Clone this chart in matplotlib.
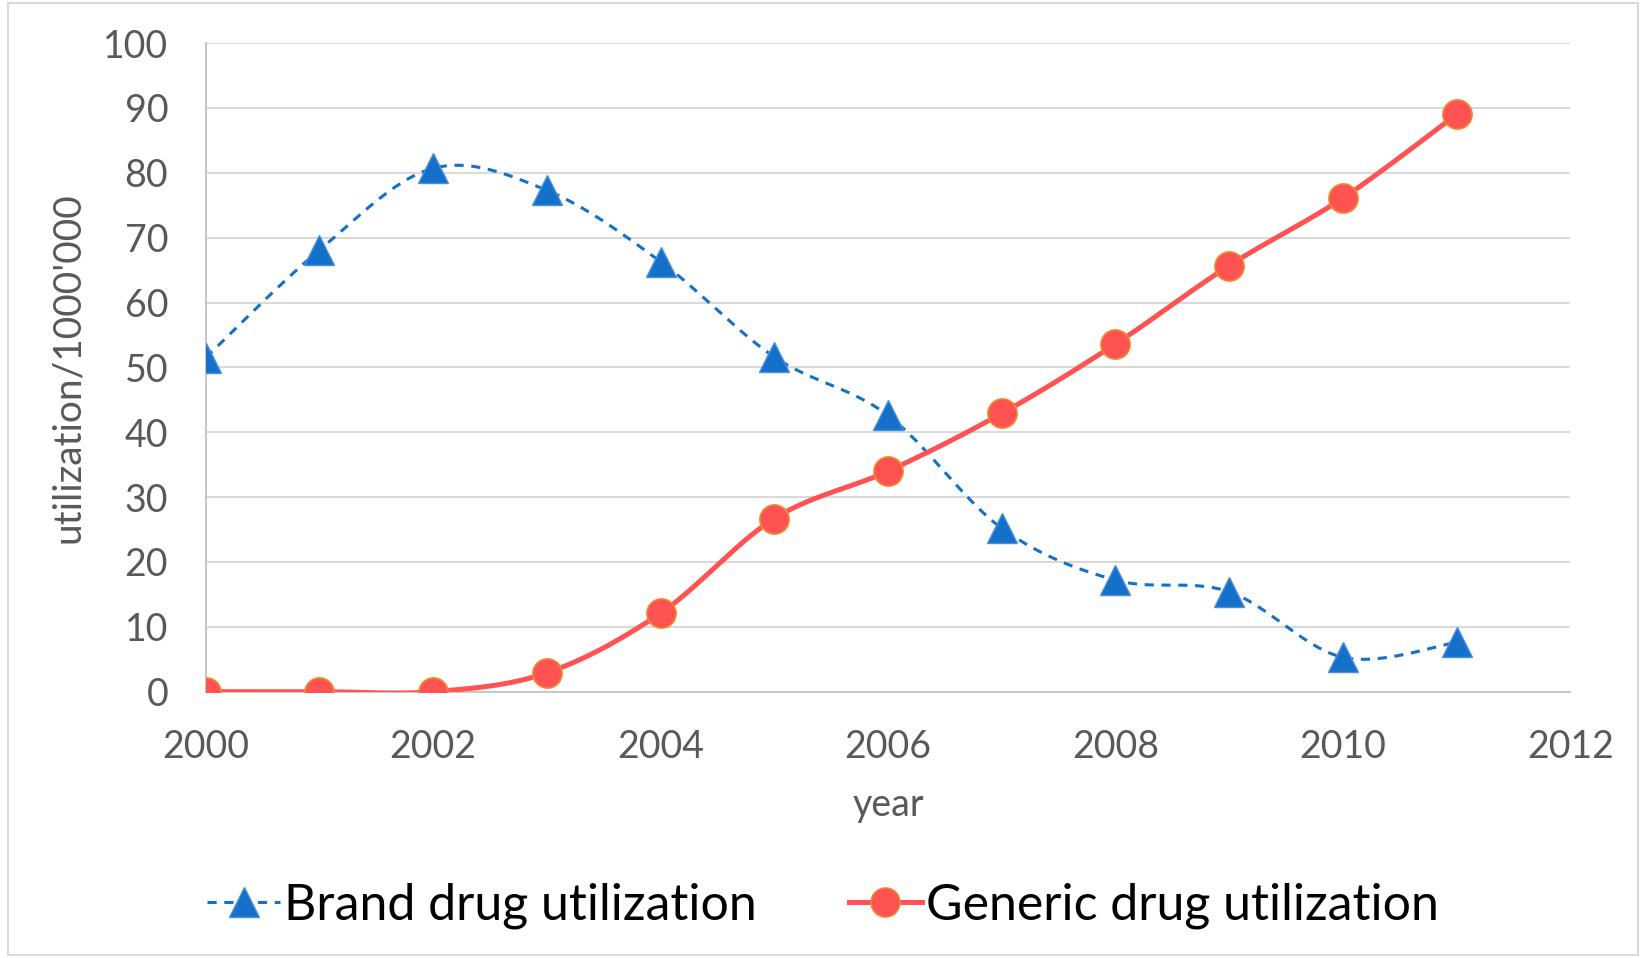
import matplotlib.pyplot as plt
import numpy as np
from matplotlib.patches import Rectangle

plt.rcParams['font.family'] = ['Lato', 'DejaVu Sans']

years = [2000, 2001, 2002, 2003, 2004, 2005, 2006, 2007, 2008, 2009, 2010, 2011]
brand = [51.5, 68.1, 80.7, 77.3, 66.3, 51.6, 42.6, 25.2, 17.2, 15.4, 5.3, 7.6]
generic = [0, 0, 0, 2.9, 12.1, 26.7, 34.0, 42.9, 53.6, 65.7, 76.1, 89.0]


def smooth(x, y, steps=30):
    # Catmull-Rom style cubic bezier through every point
    x = np.asarray(x, float)
    y = np.asarray(y, float)
    px = np.concatenate([[x[0]], x, [x[-1]]])
    py = np.concatenate([[y[0]], y, [y[-1]]])
    xs, ys = [], []
    t = np.linspace(0, 1, steps)
    for i in range(1, len(px) - 2):
        p0 = np.array([px[i], py[i]])
        p3 = np.array([px[i + 1], py[i + 1]])
        p1 = p0 + (p3 - np.array([px[i - 1], py[i - 1]])) / 6
        p2 = p3 - (np.array([px[i + 2], py[i + 2]]) - p0) / 6
        b = ((1 - t) ** 3)[:, None] * p0 + (3 * (1 - t) ** 2 * t)[:, None] * p1 \
            + (3 * (1 - t) * t ** 2)[:, None] * p2 + (t ** 3)[:, None] * p3
        xs.extend(b[:, 0])
        ys.extend(b[:, 1])
    return np.array(xs), np.array(ys)


fig = plt.figure(figsize=(16.46, 9.58), dpi=100)
ax = fig.add_axes([0.125, 0.278, 0.829, 0.677])

blue = '#1570C9'
red = '#FF5252'

bx, by = smooth(years, brand)
ax.plot(bx, by, color=blue, lw=2.2, ls=(0, (3, 2.5)), zorder=3)
ax.plot(years, brand, ls='none', marker='^', ms=21, color=blue,
        markeredgecolor='#4A90DA', markeredgewidth=1, zorder=4)

gx, gy = smooth(years, generic)
ax.plot(gx, gy, color=red, lw=3.6, zorder=3)
ax.plot(years, generic, ls='none', marker='o', ms=21, color=red,
        markeredgecolor='#F08A2E', markeredgewidth=1.2, zorder=5)

ax.set_xlim(2000, 2012)
ax.set_ylim(0, 100)
ax.set_xticks(range(2000, 2013, 2))
ax.set_yticks(range(0, 101, 10))
ax.grid(axis='y', color='#D9D9D9', lw=1.5)
ax.set_axisbelow(True)
for s in ['top', 'right']:
    ax.spines[s].set_visible(False)
ax.spines['left'].set_color('#C8C8C8')
ax.spines['bottom'].set_color('#C8C8C8')
ax.spines['left'].set_linewidth(1.5)
ax.spines['bottom'].set_linewidth(1.5)
ax.tick_params(length=0, labelsize=27, labelcolor='#595959', pad=27)
ax.set_xlabel('year', fontsize=27, color='#595959', labelpad=16)
ax.set_ylabel("utilization/1000'000", fontsize=28, color='#595959', labelpad=12)

ax.plot([], [], color=blue, lw=2.2, ls=(0, (3, 2.5)), marker='^', ms=21,
        markeredgecolor='#4A90DA', label='Brand drug utilization')
ax.plot([], [], color=red, lw=3.6, marker='o', ms=21,
        markeredgecolor='#F08A2E', label='Generic drug utilization')
h, l = ax.get_legend_handles_labels()
fig.legend(h[-2:], l[-2:], loc='center', bbox_to_anchor=(0.5, 0.055), ncol=2,
           frameon=False, fontsize=36, handlelength=1.45, handletextpad=0.08,
           columnspacing=1.85)

fig.patches.append(Rectangle((0.005, 0.003), 0.99, 0.994, transform=fig.transFigure,
                             fill=False, edgecolor='#D9D9D9', lw=1.5))

fig.savefig('out.png', dpi=100)
